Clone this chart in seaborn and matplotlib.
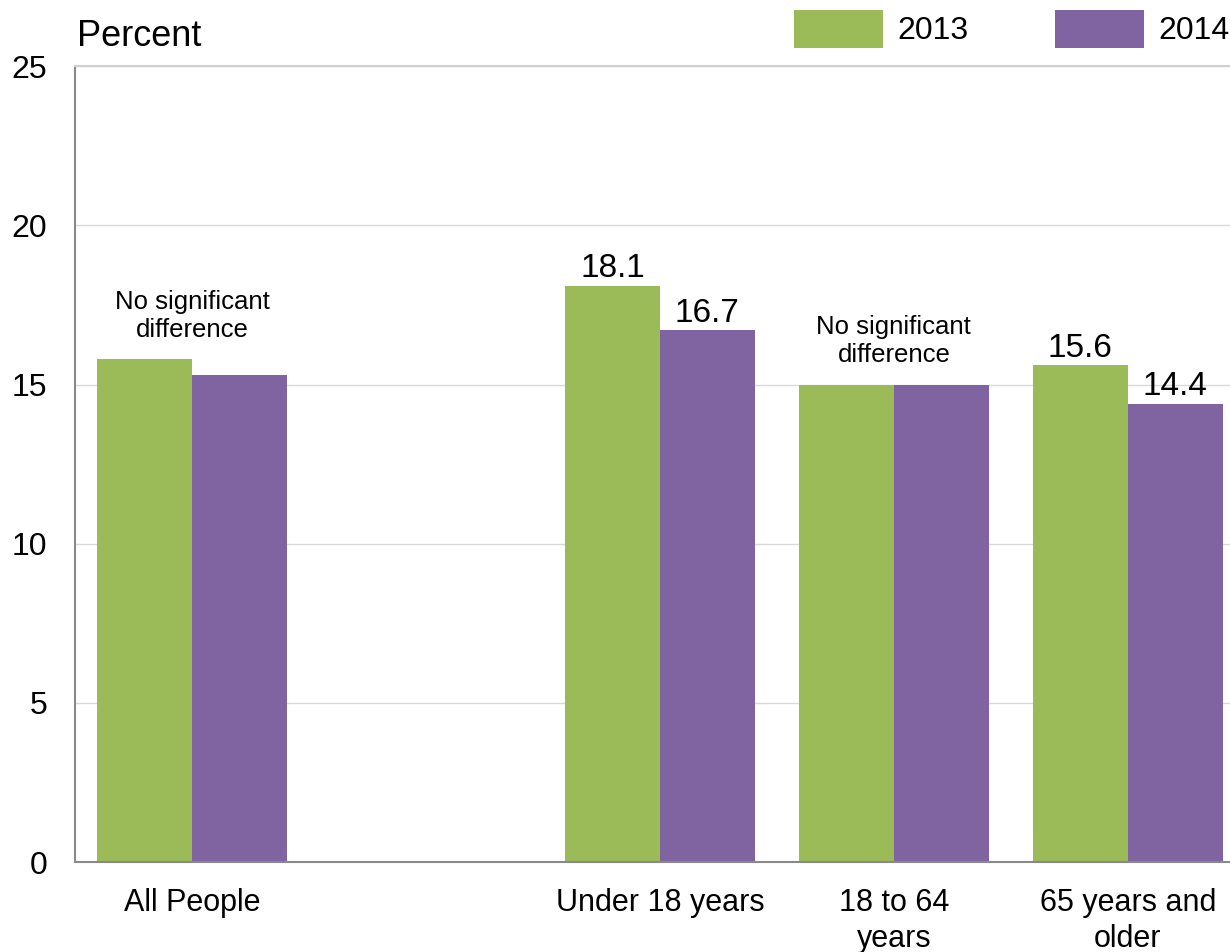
import pandas as pd
import numpy as np
import matplotlib.pyplot as plt
import seaborn as sns
from matplotlib.patches import Patch

# ---- data ----
categories = ["All People", " ", "Under 18 years", "18 to 64\nyears", "65 years and\nolder"]
groups = ["All People", "Under 18 years", "18 to 64\nyears", "65 years and\nolder"]
years = ["2013", "2014"]
values_2013 = [15.8, 18.1, 15.0, 15.6]
values_2014 = [15.3, 16.7, 15.0, 14.4]
value_labels_2013 = ["", "18.1", "", "15.6"]
value_labels_2014 = ["", "16.7", "", "14.4"]
note_groups = ["All People", "18 to 64\nyears"]
yticks = [0, 5, 10, 15, 20, 25]
colors = ["#9BBB59", "#8064A2"]

df = pd.DataFrame({
    "group": groups * 2,
    "year": [years[0]] * len(groups) + [years[1]] * len(groups),
    "value": values_2013 + values_2014,
})

sns.set_style("white")
plt.rcParams["font.family"] = ["Liberation Sans", "DejaVu Sans"]
plt.rcParams["text.color"] = "black"
plt.rcParams["xtick.color"] = "black"
plt.rcParams["ytick.color"] = "black"

fig = plt.figure(figsize=(12.3, 9.52), dpi=100)
ax = fig.add_axes([0.061, 0.0945, 0.951, 0.836])

sns.barplot(data=df, x="group", y="value", hue="year", order=categories,
            hue_order=years, palette=colors, width=0.81, saturation=1,
            edgecolor="none", linewidth=0, legend=False, ax=ax)

ax.set_ylim(0, 25)
ax.set_xlim(-0.5, len(categories) - 0.5)
ax.set_yticks(yticks)
ax.yaxis.grid(True, color="#d9d9d9", lw=1)
ax.set_axisbelow(True)
ax.set_xlabel("")
ax.set_ylabel("")
ax.tick_params(axis="y", length=0, pad=20, labelsize=23)
ax.tick_params(axis="x", length=0, pad=19, labelsize=22)
for lab in ax.get_xticklabels():
    lab.set_linespacing(1.25)

for side in ["left", "bottom"]:
    ax.spines[side].set_color("#898989")
    ax.spines[side].set_linewidth(1.5)
ax.spines["top"].set_color("#d0d0d0")
ax.spines["top"].set_linewidth(1.5)
ax.spines["right"].set_visible(False)

# value labels over bars
for cont, labs in zip(ax.containers, [value_labels_2013, value_labels_2014]):
    ax.bar_label(cont, labels=labs, padding=1, fontsize=24)

# notes
for g in note_groups:
    i = categories.index(g)
    top = max(df.loc[df["group"] == g, "value"])
    ax.text(i, top + 0.55, "No significant\ndifference", ha="center", va="bottom",
            fontsize=18.5, linespacing=1.2)

ax.text(0.002, 1.015, "Percent", transform=ax.transAxes, ha="left", va="bottom",
        fontsize=26)

handles = [Patch(facecolor=c, edgecolor="none", label=y) for c, y in zip(colors, years)]
fig.legend(handles=handles, loc="upper left", bbox_to_anchor=(0.635, 1.003),
           ncol=2, frameon=False, fontsize=23, handlelength=2.8,
           handleheight=1.45, handletextpad=0.45, columnspacing=2.7,
           borderaxespad=0.0)

fig.savefig("out.png", dpi=100)
